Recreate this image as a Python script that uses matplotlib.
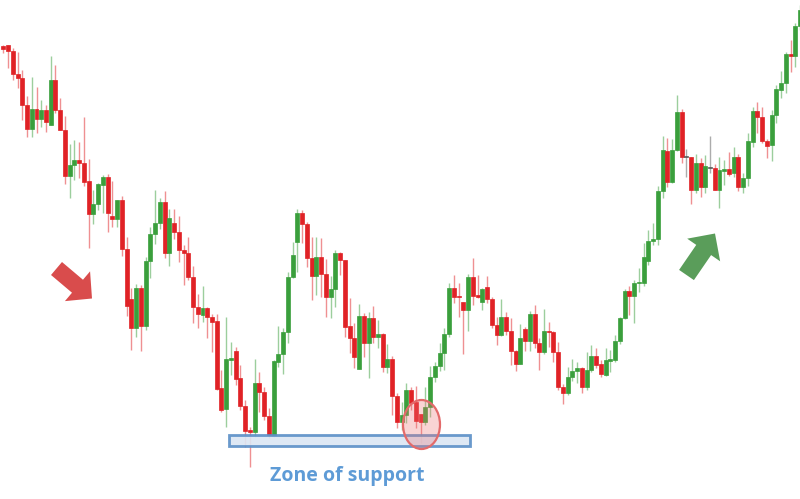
"""
Support zone candlestick sketch
Downtrend into a support zone, double bottom, then breakout to the upside.
"""

import numpy as np
import matplotlib.pyplot as plt
from matplotlib.patches import Rectangle, Ellipse, FancyArrow

# =============================================================================
# DATA - OHLC (arbitrary price units)
# =============================================================================
opens = [454, 455, 449, 426, 422, 395, 371, 391, 381, 390,
         375, 420, 390, 370, 324, 335, 340, 337, 319, 286,
         296, 315, 323, 284, 281, 300, 251, 201, 172, 212,
         174, 239, 266, 277, 298, 247, 277, 268, 250, 247,
         223, 193, 185, 192, 183, 179, 112, 91, 140, 149,
         122, 94, 70, 68, 117, 108, 84, 64, 138, 146,
         168, 223, 258, 287, 276, 242, 224, 243, 226, 203,
         211, 247, 240, 174, 162, 131, 184, 157, 182, 163,
         166, 133, 141, 104, 78, 85, 110, 98, 86, 78,
         93, 123, 134, 147, 166, 212, 204, 198, 190, 223,
         205, 198, 213, 201, 175, 165, 183, 169, 149, 136,
         171, 159, 186, 157, 148, 169, 168, 148, 113, 107,
         123, 129, 132, 113, 130, 144, 136, 125, 139, 140,
         159, 182, 209, 204, 217, 217, 239, 259, 261, 309,
         349, 318, 350, 388, 343, 343, 310, 337, 313, 332,
         332, 310, 329, 331, 327, 343, 313, 322, 358, 389,
         383, 359, 355, 385, 410, 417, 446, 444, 474]

highs = [455, 455, 452, 448, 430, 404, 423, 413, 400, 395,
         444, 435, 402, 384, 356, 360, 358, 383, 341, 310,
         317, 325, 326, 319, 300, 304, 263, 212, 216, 215,
         243, 273, 310, 302, 309, 291, 291, 284, 255, 263,
         234, 206, 214, 193, 186, 186, 130, 183, 158, 153,
         135, 100, 73, 141, 128, 113, 92, 140, 174, 172,
         228, 258, 291, 290, 278, 263, 263, 262, 241, 224,
         250, 248, 240, 202, 177, 196, 187, 188, 194, 180,
         167, 156, 144, 107, 98, 117, 113, 114, 86, 113,
         134, 138, 157, 172, 217, 225, 217, 198, 226, 242,
         225, 212, 224, 203, 183, 201, 188, 182, 150, 176,
         173, 189, 195, 162, 191, 178, 169, 158, 116, 133,
         141, 138, 133, 148, 155, 152, 140, 152, 150, 165,
         183, 211, 214, 220, 232, 257, 270, 277, 314, 364,
         362, 361, 405, 391, 351, 343, 346, 342, 345, 364,
         336, 343, 340, 348, 353, 346, 327, 367, 393, 398,
         393, 361, 390, 415, 429, 448, 460, 477, 495]

lows = [447, 432, 420, 412, 380, 363, 363, 367, 373, 368,
        375, 387, 370, 316, 302, 320, 322, 314, 252, 276,
        290, 287, 268, 273, 273, 244, 184, 150, 163, 149,
        170, 222, 256, 271, 242, 234, 261, 238, 215, 220,
        177, 172, 178, 162, 148, 110, 88, 73, 125, 115,
        90, 53, 33, 63, 88, 80, 62, 63, 133, 126,
        157, 222, 228, 257, 233, 200, 205, 203, 183, 182,
        193, 225, 163, 147, 132, 131, 143, 122, 157, 152,
        128, 127, 85, 72, 70, 77, 90, 72, 57, 75,
        83, 118, 129, 130, 163, 197, 183, 146, 169, 195,
        202, 190, 197, 172, 155, 164, 165, 135, 129, 136,
        149, 149, 152, 130, 146, 153, 138, 110, 96, 105,
        119, 117, 107, 110, 128, 132, 123, 124, 128, 138,
        156, 181, 185, 177, 208, 214, 235, 255, 255, 302,
        313, 317, 349, 337, 323, 296, 307, 303, 307, 327,
        310, 292, 315, 324, 323, 309, 307, 314, 353, 367,
        357, 342, 339, 377, 402, 407, 428, 433, 470]

closes = [451, 449, 426, 422, 395, 371, 391, 381, 390, 378,
          420, 390, 370, 324, 335, 340, 337, 318, 286, 296,
          316, 323, 287, 281, 300, 251, 194, 172, 212, 174,
          239, 266, 277, 298, 247, 282, 268, 250, 247, 223,
          193, 186, 192, 183, 178, 111, 90, 141, 142, 121,
          94, 69, 68, 117, 108, 84, 65, 139, 146, 168,
          223, 245, 287, 276, 242, 224, 243, 226, 203, 211,
          247, 240, 173, 162, 143, 184, 157, 182, 163, 166,
          133, 141, 104, 78, 85, 110, 97, 79, 78, 93,
          123, 134, 147, 166, 212, 203, 203, 190, 223, 204,
          203, 211, 201, 175, 165, 183, 169, 149, 136, 162,
          159, 186, 157, 148, 169, 168, 148, 113, 107, 123,
          129, 132, 113, 130, 144, 135, 126, 140, 141, 159,
          182, 209, 204, 217, 218, 243, 259, 261, 309, 350,
          318, 350, 388, 343, 343, 310, 337, 313, 334, 332,
          310, 330, 331, 326, 343, 313, 322, 359, 389, 383,
          359, 354, 385, 411, 417, 446, 444, 474, 490]

# =============================================================================
# STYLE
# =============================================================================
UP_COLOR    = "#3a9f3c"
DOWN_COLOR  = "#e02226"
DOJI_COLOR  = "#5a5a5a"
ZONE_EDGE   = "#5b8fc7"
ZONE_FILL   = "#dbe6f3"
LABEL_COLOR = "#5e9bd6"

W, H = 800, 499          # output size in pixels
X0, DX = 3.3, 4.743      # pixel position of first candle and candle spacing


def draw_candles(ax):
    o = np.array(opens, dtype=float)
    h = np.array(highs, dtype=float)
    l = np.array(lows, dtype=float)
    c = np.array(closes, dtype=float)
    idx = np.arange(len(o))

    colors = np.where(c > o, UP_COLOR, DOWN_COLOR).astype(object)
    colors[c == o] = DOJI_COLOR

    # wicks - lighter than the bodies
    ax.vlines(idx, l, h, colors=list(colors), linewidth=1.0, alpha=0.5, zorder=2)

    bottom = np.minimum(o, c)
    height = np.maximum(np.abs(c - o), 1.5)
    ax.bar(idx, height, bottom=bottom, width=0.84, color=list(colors),
           edgecolor=list(colors), linewidth=0.5, zorder=3)

    ax.set_xlim(-X0 / DX, (W - X0) / DX)
    ax.set_ylim(1, 500)
    ax.axis("off")


def draw_annotations(ov):
    # overlay axes in pixel coordinates (y down)
    ov.set_xlim(0, W)
    ov.set_ylim(H, 0)
    ov.axis("off")

    # support zone box
    ov.add_patch(Rectangle((228.5, 434.5), 241.5, 11, facecolor=ZONE_FILL,
                           edgecolor=ZONE_EDGE, linewidth=2, alpha=0.9, zorder=5))
    ov.text(347, 476, "Zone of support", color=LABEL_COLOR, fontsize=14,
            fontweight="bold", family=["Open Sans", "DejaVu Sans"],
            ha="center", va="center", zorder=6)

    # circle on the second bottom
    ov.add_patch(Ellipse((421.5, 424.5), 37, 49, facecolor=(0.93, 0.45, 0.45, 0.3),
                         edgecolor="#e36a6a", linewidth=1.6, zorder=6))

    # trend arrows
    ov.add_patch(FancyArrow(56.5, 268.5, 35.5, 30.0, width=17, head_width=39,
                            head_length=19, length_includes_head=True,
                            color="#d94c4c", linewidth=0, zorder=6))
    ov.add_patch(FancyArrow(686.5, 275.0, 28.5, -41.5, width=18, head_width=40,
                            head_length=20, length_includes_head=True,
                            color="#5a9d5a", linewidth=0, zorder=6))


if __name__ == "__main__":
    fig = plt.figure(figsize=(W / 100, H / 100), dpi=100)
    fig.patch.set_facecolor("white")

    ax = fig.add_axes([0, 0, 1, 1])
    draw_candles(ax)

    ov = fig.add_axes([0, 0, 1, 1])
    ov.patch.set_alpha(0)
    draw_annotations(ov)

    fig.savefig("out.png", dpi=100)
